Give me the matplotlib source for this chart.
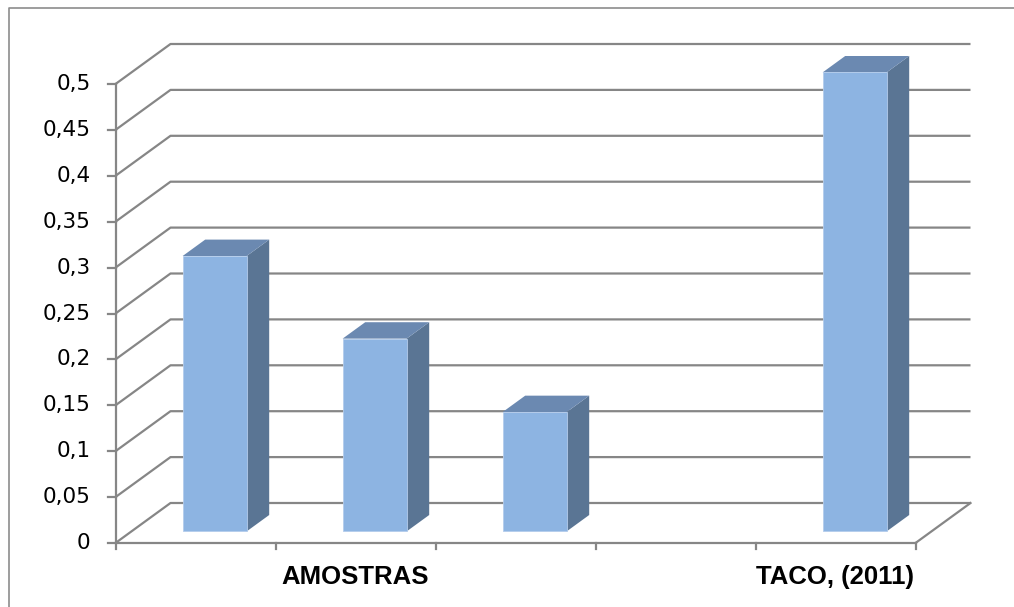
import numpy as np
import matplotlib
matplotlib.use("Agg")
import matplotlib.pyplot as plt
from matplotlib.patches import Polygon
from matplotlib.lines import Line2D

# data
categories = ["", "AMOSTRAS", "", "", "TACO, (2011)"]
values = [0.30, 0.21, 0.13, None, 0.50]
y_ticks = [0, 0.05, 0.1, 0.15, 0.2, 0.25, 0.3, 0.35, 0.4, 0.45, 0.5]
y_tick_labels = ["0", "0,05", "0,1", "0,15", "0,2", "0,25", "0,3", "0,35", "0,4", "0,45", "0,5"]

W, H = 1014, 607
X0_PX, CAT_PX = 115.5, 160.0   # left of plot and width of one category in pixels
Y0_PX, UNIT_PX = 543.0, 918.0  # baseline pixel row and pixels per unit of value
DEPTH_DX = 55.0 / CAT_PX       # oblique depth offset in data units
DEPTH_DY = 40.0 / UNIT_PX

GRID = "#868686"
FRONT = "#8DB4E2"
TOP = "#6B89B1"
SIDE = "#5A7594"


def proj(x, y, d):
    # oblique projection: d = 0 front plane, d = 1 back wall
    return x + d * DEPTH_DX, y + d * DEPTH_DY


fig = plt.figure(figsize=(W / 100, H / 100), dpi=100)
ax = fig.add_axes([0, 0, 1, 1])
ax.set_xlim(-X0_PX / CAT_PX, (W - X0_PX) / CAT_PX)
ax.set_ylim(-(H - Y0_PX) / UNIT_PX, Y0_PX / UNIT_PX)
ax.axis("off")

n = len(categories)

# back wall gridlines with the diagonal on the left wall
for v in y_ticks:
    pts = [proj(0, v, 0), proj(0, v, 1), proj(n, v, 1)]
    ax.plot([p[0] for p in pts], [p[1] for p in pts], color=GRID, lw=1.6,
            solid_capstyle="butt", zorder=1)

# floor right edge
p1, p2 = proj(n, 0, 0), proj(n, 0, 1)
ax.plot([p1[0], p2[0]], [p1[1], p2[1]], color=GRID, lw=1.6, zorder=1)

# axes lines
ax.plot([0, 0], [0, max(y_ticks)], color=GRID, lw=1.6, zorder=4)
ax.plot([0, n], [0, 0], color=GRID, lw=1.6, zorder=4)
tick_len_x = 8 / CAT_PX
for v, lab in zip(y_ticks, y_tick_labels):
    ax.plot([-tick_len_x, 0], [v, v], color=GRID, lw=1.6, zorder=4)
    ax.text(-25 / CAT_PX, v, lab, ha="right", va="center", fontsize=15.5,
            family="DejaVu Sans", color="black")
tick_len_y = 6 / UNIT_PX
for i in range(n + 1):
    ax.plot([i, i], [0, -tick_len_y], color=GRID, lw=1.6, zorder=4)
for i, lab in enumerate(categories):
    if lab:
        ax.text(i + 0.5, -34 / UNIT_PX, lab, ha="center", va="center",
                fontsize=18.5, fontweight="bold", family="Liberation Sans")

# 3D bars
bar_w = 0.40
d0, d1 = 0.29, 0.70
for i, v in enumerate(values):
    if v is None:
        continue
    xl = i + 0.52 - bar_w / 2
    xr = i + 0.52 + bar_w / 2
    side = [proj(xr, 0, d0), proj(xr, v, d0), proj(xr, v, d1), proj(xr, 0, d1)]
    top = [proj(xl, v, d0), proj(xr, v, d0), proj(xr, v, d1), proj(xl, v, d1)]
    front = [proj(xl, 0, d0), proj(xr, 0, d0), proj(xr, v, d0), proj(xl, v, d0)]
    ax.add_patch(Polygon(side, closed=True, facecolor=SIDE, edgecolor="none", zorder=3))
    ax.add_patch(Polygon(top, closed=True, facecolor=TOP, edgecolor="none", zorder=3))
    ax.add_patch(Polygon(front, closed=True, facecolor=FRONT, edgecolor="#B4CCEC",
                         lw=0.6, zorder=3))

# chart area border (left and top visible)
fig.add_artist(Line2D([8.5 / W, 8.5 / W, 1.0], [0.0, 1 - 7.5 / H, 1 - 7.5 / H],
                      transform=fig.transFigure, color="#8C8C8C", lw=1.2))

fig.savefig("out.png", dpi=100)
